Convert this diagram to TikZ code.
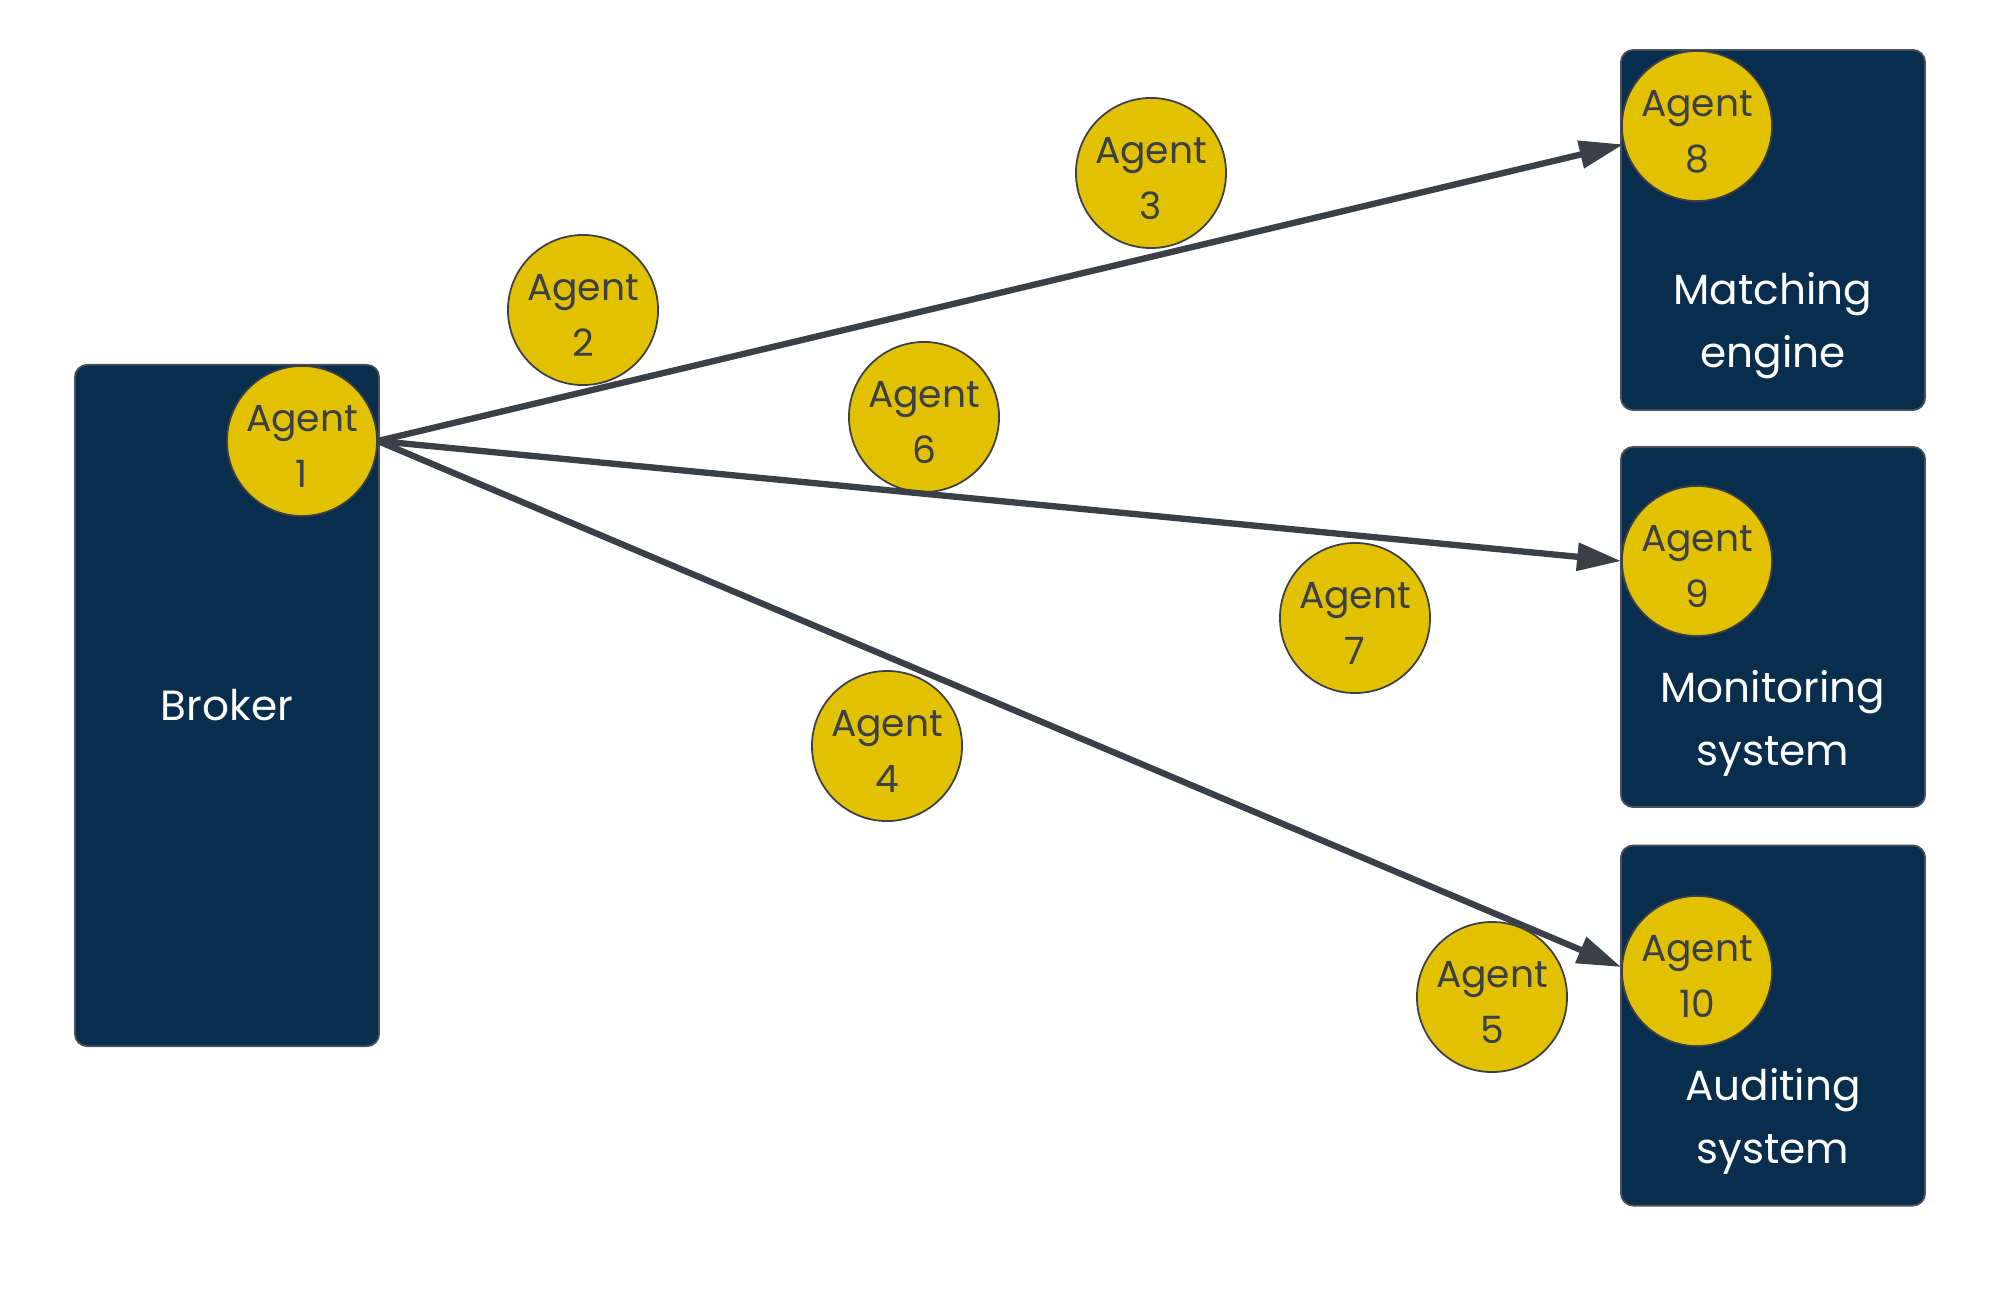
\documentclass[tikz,border=0pt]{standalone}
\usepackage{fontspec}
\setmainfont{Poppins}
\usetikzlibrary{arrows.meta}
\definecolor{navy}{HTML}{082D4D}
\definecolor{gold}{HTML}{E2C200}
\definecolor{ink}{HTML}{3A3F48}
\definecolor{rim}{HTML}{4A4F58}
\tikzset{
  panel/.style={draw=rim, line width=0.5pt, fill=navy, rounded corners=3.5pt,
    minimum width=3.04cm, inner sep=0pt, text=white,
    font=\fontsize{12pt}{17.9pt}\selectfont},
  paneltext/.style={text=white, align=center, inner sep=0pt,
    font=\fontsize{12pt}{17.9pt}\selectfont},
  agent/.style={circle, draw=ink, line width=0.5pt, fill=gold, minimum size=1.5cm,
    inner sep=0pt, align=center, text=ink, text height=26.6pt, text depth=0pt,
    font=\fontsize{10.7pt}{15.9pt}\selectfont},
  link/.style={draw=ink, line width=1.8pt, -{Triangle[length=12.5pt,width=7.7pt]}}
}
\begin{document}
\begin{tikzpicture}[x=0.01cm, y=-0.01cm]
\useasboundingbox (0,0) rectangle (2000,1306);
% systems
\node[panel, minimum height=6.81cm] (broker) at (227,705.5) {Broker};
\node[panel, minimum height=3.6cm] (match) at (1773,230) {};
\node[panel, minimum height=3.6cm] (monitor) at (1773,627) {};
\node[panel, minimum height=3.6cm] (audit) at (1773,1025.5) {};
\node[paneltext] (matchtxt) at ([yshift=-0.96cm]match.center) {Matching\\engine};
\node[paneltext] (monitortxt) at ([yshift=-0.96cm]monitor.center) {Monitoring\\system};
\node[paneltext] (audittxt) at ([yshift=-0.96cm]audit.center) {Auditing\\system};
% agents
\node[agent] (a1) at (302,441) {Agent\\1};
\node[agent] (a2) at (583,310) {Agent\\2};
\node[agent] (a3) at (1151,173) {Agent\\3};
\node[agent] (a4) at (887,746) {Agent\\4};
\node[agent] (a5) at (1492,997) {Agent\\5};
\node[agent] (a6) at (924,417) {Agent\\6};
\node[agent] (a7) at (1355,618) {Agent\\7};
\node[agent] (a8) at (1697,126) {Agent\\8};
\node[agent] (a9) at (1697,561) {Agent\\9};
\node[agent] (a10) at (1697,971) {Agent\\10};
% flows
\draw[link] (a1.east) -- (a8.194);
\draw[link] (a1.east) -- (a9.west);
\draw[link] (a1.east) -- (a10.177);
\end{tikzpicture}
\end{document}
